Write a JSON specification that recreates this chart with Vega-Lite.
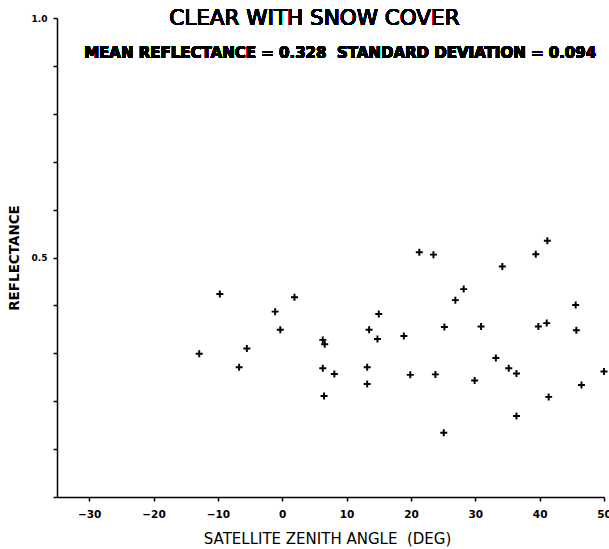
{
  "$schema": "https://vega.github.io/schema/vega-lite/v6.json",
  "width": 547,
  "height": 479,
  "autosize": "none",
  "padding": {"left": 57, "top": 18, "right": 5, "bottom": 52},
  "background": "white",
  "config": {
    "view": {"stroke": null},
    "axis": {"grid": false, "domainColor": "black", "domainWidth": 1.5, "tickColor": "black", "tickWidth": 1.5, "tickSize": 4, "labelColor": "black", "titleColor": "black", "labelFont": "DejaVu Sans", "titleFont": "DejaVu Sans"}
  },
  "data": {"values": [
    {"angle": -9.7, "reflectance": 0.424},
    {"angle": 1.9, "reflectance": 0.417},
    {"angle": -1.1, "reflectance": 0.387},
    {"angle": -0.3, "reflectance": 0.349},
    {"angle": -12.9, "reflectance": 0.299},
    {"angle": -5.5, "reflectance": 0.310},
    {"angle": -6.7, "reflectance": 0.271},
    {"angle": 6.3, "reflectance": 0.328},
    {"angle": 6.6, "reflectance": 0.319},
    {"angle": 6.3, "reflectance": 0.269},
    {"angle": 8.1, "reflectance": 0.257},
    {"angle": 6.5, "reflectance": 0.211},
    {"angle": 13.2, "reflectance": 0.271},
    {"angle": 13.2, "reflectance": 0.236},
    {"angle": 13.5, "reflectance": 0.349},
    {"angle": 14.8, "reflectance": 0.330},
    {"angle": 15.0, "reflectance": 0.382},
    {"angle": 18.9, "reflectance": 0.336},
    {"angle": 19.9, "reflectance": 0.255},
    {"angle": 21.3, "reflectance": 0.511},
    {"angle": 23.5, "reflectance": 0.506},
    {"angle": 23.8, "reflectance": 0.256},
    {"angle": 25.2, "reflectance": 0.355},
    {"angle": 25.1, "reflectance": 0.134},
    {"angle": 26.9, "reflectance": 0.411},
    {"angle": 28.2, "reflectance": 0.434},
    {"angle": 29.9, "reflectance": 0.243},
    {"angle": 30.9, "reflectance": 0.356},
    {"angle": 33.2, "reflectance": 0.290},
    {"angle": 34.2, "reflectance": 0.481},
    {"angle": 35.2, "reflectance": 0.269},
    {"angle": 36.4, "reflectance": 0.258},
    {"angle": 36.4, "reflectance": 0.169},
    {"angle": 39.4, "reflectance": 0.507},
    {"angle": 41.2, "reflectance": 0.535},
    {"angle": 39.8, "reflectance": 0.356},
    {"angle": 41.1, "reflectance": 0.363},
    {"angle": 41.4, "reflectance": 0.209},
    {"angle": 45.6, "reflectance": 0.401},
    {"angle": 45.7, "reflectance": 0.348},
    {"angle": 46.5, "reflectance": 0.234},
    {"angle": 50.0, "reflectance": 0.262}
  ]},
  "layer": [
    {
      "mark": {"type": "point", "shape": "M-1,-0.28H-0.28V-1H0.28V-0.28H1V0.28H0.28V1H-0.28V0.28H-1Z", "filled": true, "color": "black", "size": 49, "opacity": 1},
      "encoding": {
        "x": {"field": "angle", "type": "quantitative", "scale": {"domain": [-35, 50], "nice": false, "zero": false},
          "axis": {"values": [-30, -20, -10, 0, 10, 20, 30, 40, 50], "title": "SATELLITE ZENITH ANGLE\u00a0\u00a0(DEG)", "titleFontSize": 15, "titleFontWeight": "normal", "titleX": 270, "labelFontSize": 10.5, "labelFontWeight": "bold", "labelPadding": 8, "titlePadding": 12, "labelFlush": false, "labelOverlap": false}},
        "y": {"field": "reflectance", "type": "quantitative", "scale": {"domain": [0, 1], "nice": false, "zero": true},
          "axis": {"values": [0, 0.1, 0.2, 0.3, 0.4, 0.5, 0.6, 0.7, 0.8, 0.9, 1.0], "labelExpr": "datum.value == 1 || datum.value == 0.5 ? format(datum.value, '.1f') : ''", "title": "REFLECTANCE", "titleFontSize": 13.5, "titleFontWeight": "bold", "labelFontSize": 9, "labelFontWeight": "bold", "labelPadding": 6, "titleX": -43, "titleY": 239.5, "titleBaseline": "middle", "labelOverlap": false}}
      }
    },
    {
      "mark": {"type": "text", "text": "CLEAR WITH SNOW COVER", "fontSize": 21.5, "fontWeight": "normal", "font": "DejaVu Sans", "baseline": "alphabetic", "align": "center", "color": "black"},
      "encoding": {"x": {"datum": 5.0, "type": "quantitative"}, "y": {"datum": 0.985, "type": "quantitative"}}
    },
    {
      "mark": {"type": "text", "text": "MEAN REFLECTANCE = 0.328\u00a0\u00a0STANDARD DEVIATION = 0.094", "fontSize": 15, "fontWeight": "bold", "font": "DejaVu Sans", "baseline": "alphabetic", "align": "center", "color": "black"},
      "encoding": {"x": {"datum": 9.0, "type": "quantitative"}, "y": {"datum": 0.9165, "type": "quantitative"}}
    }
  ]
}
